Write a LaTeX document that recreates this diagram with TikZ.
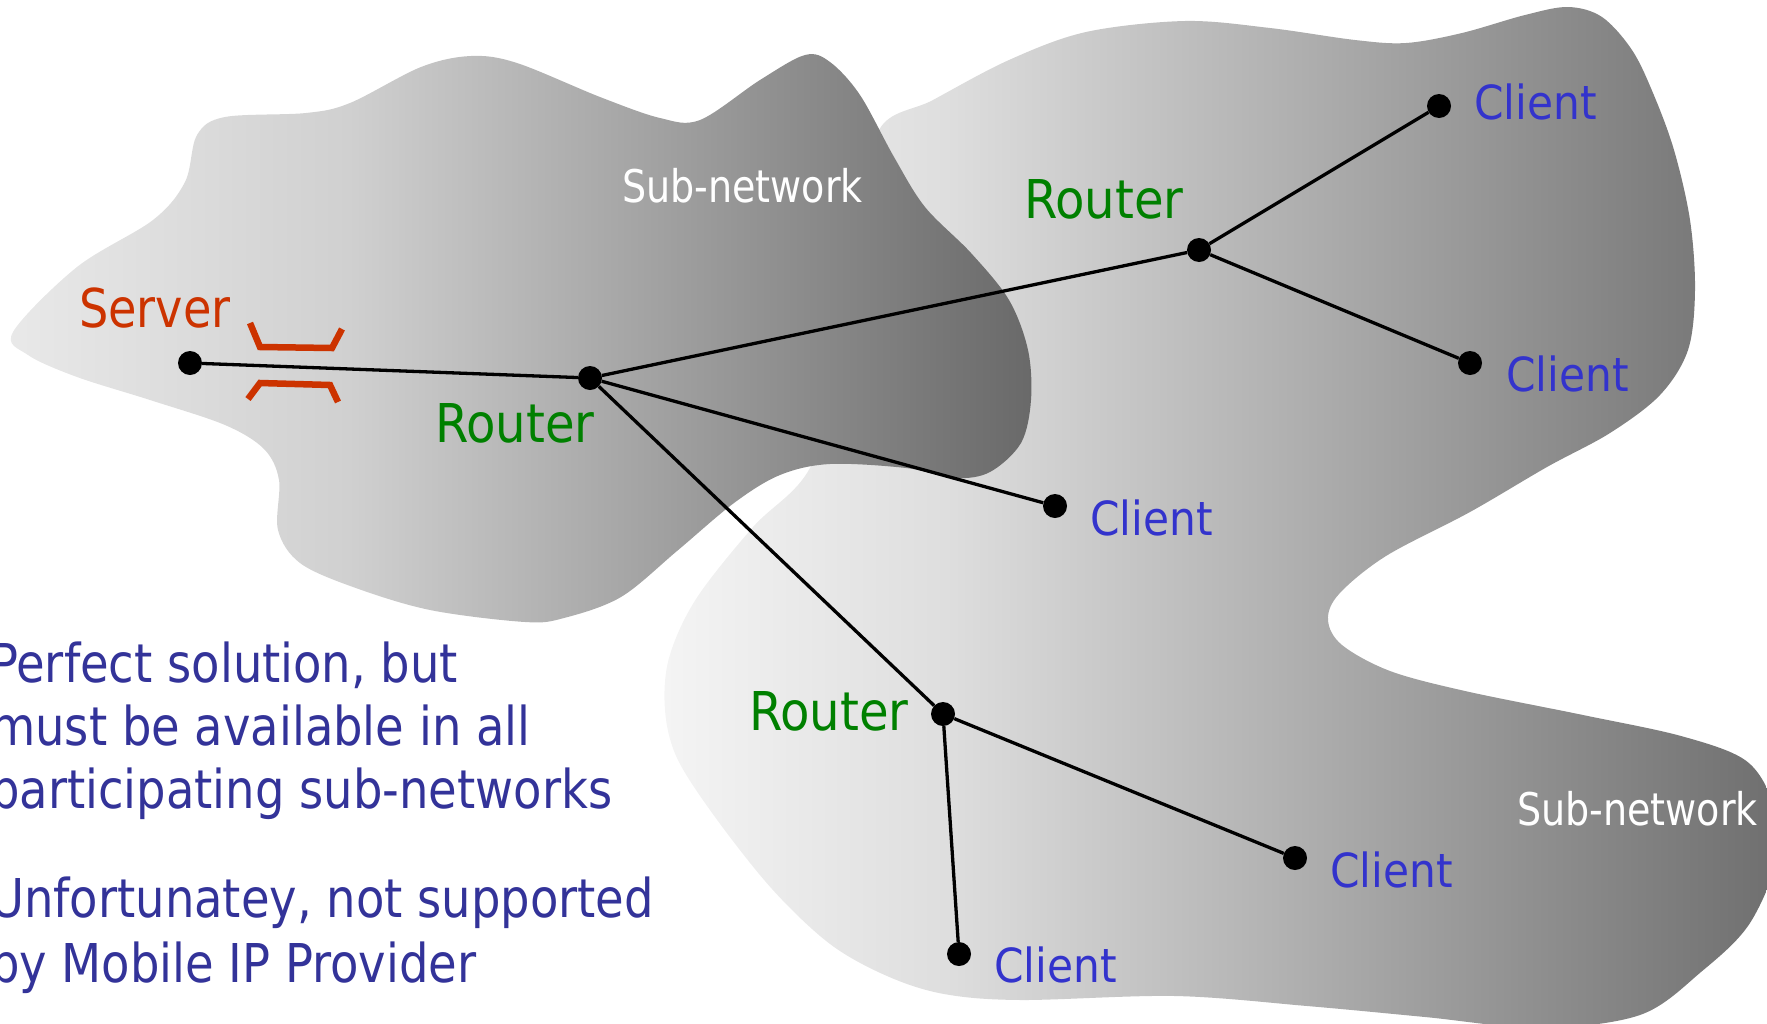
\documentclass[tikz,border=0pt]{standalone}
\usepackage{fontspec}
\setmainfont{DejaVu Sans Condensed}
\newfontfamily\notefont[FakeStretch=0.965]{DejaVu Sans Condensed}
\newfontfamily\netfont[FakeStretch=0.94]{DejaVu Sans Condensed}
\newfontfamily\srvfont[FakeStretch=0.96]{DejaVu Sans Condensed}

% text colours
\definecolor{servercol}{RGB}{204,51,0}
\definecolor{routercol}{RGB}{0,128,0}
\definecolor{clientcol}{RGB}{51,51,204}
\definecolor{notecol}{RGB}{51,51,153}

% grey ramps of the two sub-network clouds
\definecolor{gA0}{RGB}{233,233,233}
\definecolor{gA1}{RGB}{208,208,208}
\definecolor{gA2}{RGB}{105,105,105}
\definecolor{gB0}{RGB}{244,244,244}
\definecolor{gB1}{RGB}{222,222,222}
\definecolor{gB2}{RGB}{110,110,110}
\pgfdeclarehorizontalshading{netA}{100bp}{color(0bp)=(gA0); color(25bp)=(gA0); color(41.7bp)=(gA1); color(75bp)=(gA2); color(100bp)=(gA2)}
\pgfdeclarehorizontalshading{netB}{100bp}{color(0bp)=(gB0); color(25bp)=(gB0); color(37.6bp)=(gB1); color(75bp)=(gB2); color(100bp)=(gB2)}

\tikzset{
  dot/.style={circle, fill=black, inner sep=0pt, minimum size=24pt},
  link/.style={draw=black, line width=3.3pt},
  bracket/.style={draw=servercol, line width=6.5pt, line join=miter},
  clientlbl/.style={anchor=base west, inner sep=0pt, text=clientcol, font=\fontsize{47}{56}\selectfont},
  routerlbl/.style={anchor=base west, inner sep=0pt, text=routercol, font=\fontsize{53.5}{64}\selectfont},
  serverlbl/.style={anchor=base west, inner sep=0pt, text=servercol, font=\srvfont\fontsize{53.5}{64}\selectfont},
  netlbl/.style={anchor=base west, inner sep=0pt, text=white, font=\netfont\fontsize{45}{54}\selectfont},
  notelbl/.style={anchor=base west, inner sep=0pt, text=notecol, font=\notefont\fontsize{53.5}{64}\selectfont},
}

\begin{document}
\begin{tikzpicture}[x=1pt, y=-1pt]
\useasboundingbox (0,0) rectangle (1767,1023);
\clip (0,0) rectangle (1767,1023);

% right / lower sub-network cloud
\shade[shading=netB] plot[smooth cycle, tension=0.55] coordinates {
  (879,130) (933,100) (1009,60) (1086,32) (1185,21) (1270,28) (1355,40)
  (1406,43) (1462,33) (1525,15) (1568,7) (1602,17) (1632,50) (1653,93)
  (1674,150) (1690,220) (1695,290) (1688,350) (1660,395) (1610,433)
  (1547,467) (1470,512) (1386,556) (1339,594) (1328,620) (1342,645)
  (1390,671) (1465,691) (1583,715) (1681,736) (1745,760) (1772,800)
  (1780,850) (1750,923) (1701,972) (1640,1015) (1540,1028) (1425,1017)
  (1307,1006) (1175,996) (1021,1000) (944,994) (887,976) (830,944)
  (772,889) (715,817) (677,758) (665,710) (669,658) (696,599) (753,527)
  (810,468) (850,350) (862,230)
};

% left / upper sub-network cloud
\shade[shading=netA] plot[smooth cycle, tension=0.55] coordinates {
  (13,332) (77,267) (153,220) (185,182) (197,135) (225,117) (306,113)
  (350,103) (421,67) (471,56) (517,63) (600,97) (660,118) (700,120)
  (760,80) (805,55) (830,62) (860,95) (894,157) (925,207) (971,253)
  (1009,300) (1028,350) (1031,400) (1021,443) (990,472) (955,478)
  (906,468) (830,464) (780,475) (734,503) (677,551) (621,597) (564,618)
  (525,622) (430,610) (353,587) (300,563) (278,530) (279,480) (264,449)
  (225,425) (150,400) (77,377) (28,355)
};

% blocked path markers
\draw[bracket] (250,323) -- (260,347) -- (332,348) -- (342,329);
\draw[bracket] (248,399) -- (260,383) -- (330,385) -- (338,402);

% hosts and routers
\node[dot] (srv) at (190,363) {};
\node[dot] (r1)  at (590,378) {};
\node[dot] (r2)  at (1199,250) {};
\node[dot] (r3)  at (943,714) {};
\node[dot] (c1)  at (1439,106) {};
\node[dot] (c2)  at (1470,363) {};
\node[dot] (c3)  at (1055,506) {};
\node[dot] (c4)  at (1295,858) {};
\node[dot] (c5)  at (959,954) {};

% links
\draw[link] (srv) -- (r1);
\draw[link] (r1) -- (r2);
\draw[link] (r1) -- (c3);
\draw[link] (r1) -- (r3);
\draw[link] (r2) -- (c1);
\draw[link] (r2) -- (c2);
\draw[link] (r3) -- (c4);
\draw[link] (r3) -- (c5);

% labels
\node[serverlbl] (srvlab) at (79,327) {Server};
\node[routerlbl] (r1lab) at (435,442) {Router};
\node[routerlbl] (r2lab) at (1024,218) {Router};
\node[routerlbl] (r3lab) at (749,730) {Router};
\node[clientlbl] (c1lab) at (1474,119) {Client};
\node[clientlbl] (c2lab) at (1506,391) {Client};
\node[clientlbl] (c3lab) at (1090,535) {Client};
\node[clientlbl] (c4lab) at (1330,887) {Client};
\node[clientlbl] (c5lab) at (994,982) {Client};
\node[netlbl] (net1lab) at (622,202) {Sub-network};
\node[netlbl] (net2lab) at (1517,825) {Sub-network};

% remarks
\node[notelbl] (note1) at (-10,682) {Perfect solution, but};
\node[notelbl] (note2) at (-10,745) {must be available in all};
\node[notelbl] (note3) at (-10,808) {participating sub-networks};
\node[notelbl] (note4) at (-10,917) {Unfortunatey, not supported};
\node[notelbl] (note5) at (-10,982) {by Mobile IP Provider};
\end{tikzpicture}
\end{document}
